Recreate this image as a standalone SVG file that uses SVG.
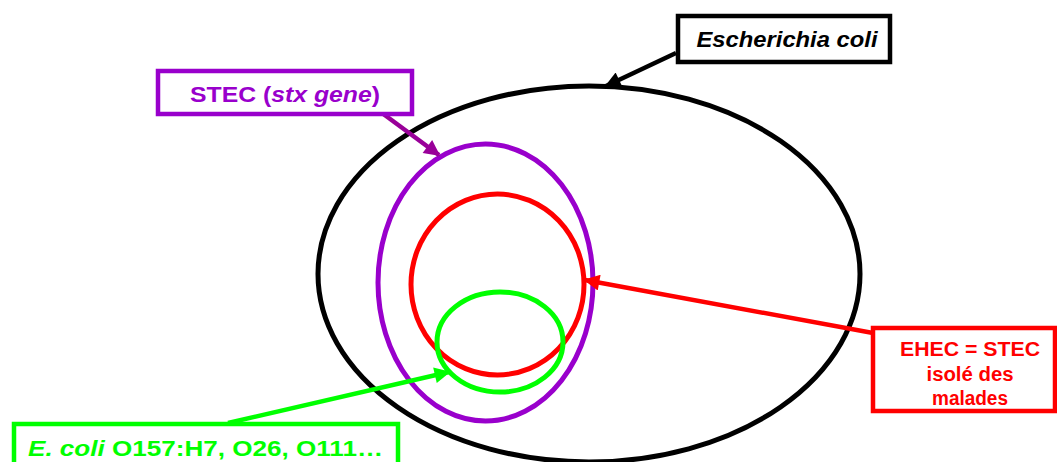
<svg xmlns="http://www.w3.org/2000/svg" width="1057" height="462" viewBox="0 0 1057 462">
<style>
.sh{fill:none;stroke-width:5}
.box{fill:#fff;stroke-width:4.5}
.t{font-family:"Liberation Sans",Arial,sans-serif;font-weight:bold}
.con{fill:none;stroke-width:4.5}
</style>
<defs>
<marker id="aK" viewBox="0 0 10 10" refX="9" refY="5" markerWidth="20" markerHeight="16" markerUnits="userSpaceOnUse" orient="auto"><path d="M0,0 L10,5 L0,10 z" fill="#000"/></marker>
<marker id="aP" viewBox="0 0 10 10" refX="9" refY="5" markerWidth="20" markerHeight="16" markerUnits="userSpaceOnUse" orient="auto"><path d="M0,0 L10,5 L0,10 z" fill="#990099"/></marker>
<marker id="aR" viewBox="0 0 10 10" refX="9" refY="5" markerWidth="20" markerHeight="16" markerUnits="userSpaceOnUse" orient="auto"><path d="M0,0 L10,5 L0,10 z" fill="#f00"/></marker>
<marker id="aG" viewBox="0 0 10 10" refX="9" refY="5" markerWidth="20" markerHeight="16" markerUnits="userSpaceOnUse" orient="auto"><path d="M0,0 L10,5 L0,10 z" fill="#0f0"/></marker>
</defs>
<rect width="1057" height="462" fill="#fff"/>
<g id="ecoli-set"><ellipse class="sh" cx="589" cy="274" rx="271" ry="188" stroke="#000"/></g>
<g id="stec-set"><ellipse class="sh" cx="485.5" cy="282.5" rx="107.5" ry="138.5" stroke="#9900cc"/></g>
<g id="ehec-set"><ellipse class="sh" cx="497.5" cy="284.5" rx="86.5" ry="90.5" stroke="#f00"/></g>
<g id="serotype-set"><ellipse class="sh" cx="500" cy="342" rx="63" ry="50" stroke="#0f0"/></g>
<g id="connectors">
<line class="con" x1="676" y1="53" x2="606" y2="86" stroke="#000" marker-end="url(#aK)"/>
<line class="con" x1="382" y1="113" x2="439" y2="155" stroke="#990099" marker-end="url(#aP)"/>
<line class="con" x1="873" y1="333" x2="585" y2="280" stroke="#f00" marker-end="url(#aR)"/>
<line class="con" x1="228" y1="423" x2="449" y2="372" stroke="#0f0" marker-end="url(#aG)"/>
</g>
<g id="label-ecoli">
<rect class="box" x="678" y="16" width="212" height="46" stroke="#000"/>
<text class="t" x="787" y="47" font-size="22" font-style="italic" text-anchor="middle" textLength="181" lengthAdjust="spacingAndGlyphs" fill="#000">Escherichia coli</text>
</g>
<g id="label-stec">
<rect class="box" x="158" y="71" width="254" height="43" stroke="#9900cc"/>
<text class="t" x="285" y="102" font-size="22" text-anchor="middle" textLength="190" lengthAdjust="spacingAndGlyphs" fill="#9900cc">STEC (<tspan font-style="italic">stx gene</tspan>)</text>
</g>
<g id="label-ehec">
<rect class="box" x="873" y="328" width="182" height="83" stroke="#f00"/>
<g class="t" font-size="20" text-anchor="middle" fill="#f00">
<text x="970" y="356" textLength="140" lengthAdjust="spacingAndGlyphs">EHEC = STEC</text>
<text x="970" y="381" textLength="87" lengthAdjust="spacingAndGlyphs">isolé des</text>
<text x="970" y="405" textLength="76" lengthAdjust="spacingAndGlyphs">malades</text>
</g>
</g>
<g id="label-serotypes">
<rect class="box" x="14" y="424" width="384" height="44" stroke="#0f0"/>
<text class="t" x="28" y="456" font-size="22" textLength="355" lengthAdjust="spacingAndGlyphs" fill="#0f0"><tspan font-style="italic">E. coli</tspan> O157:H7, O26, O111…</text>
</g>
</svg>
